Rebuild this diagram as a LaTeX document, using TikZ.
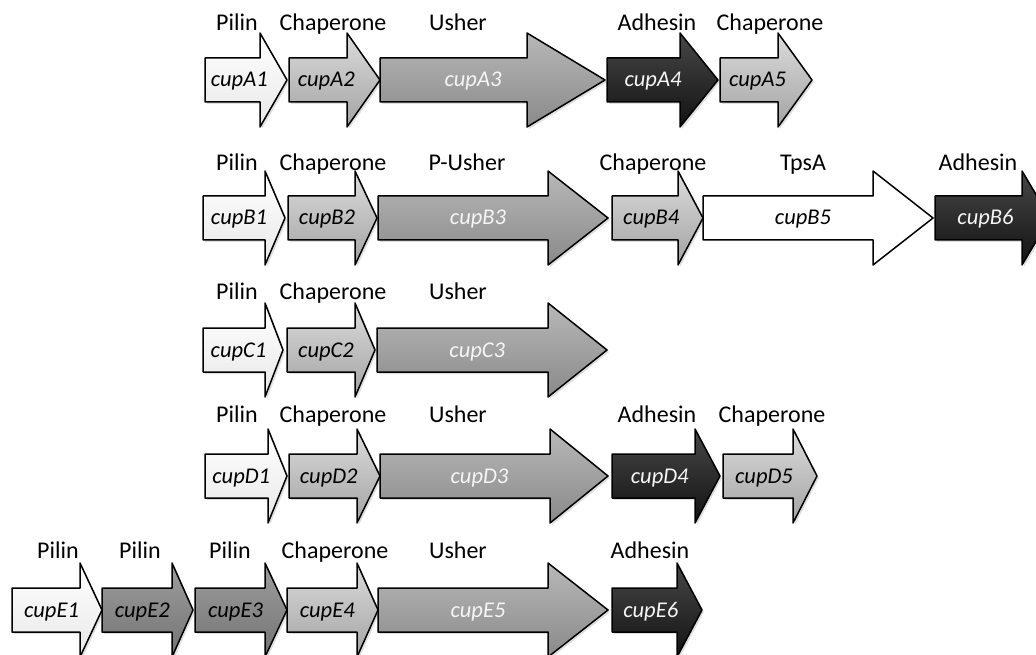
\documentclass[tikz,border=0pt]{standalone}
\usepackage{fontspec}
\setmainfont{Carlito}
\usetikzlibrary{shadows}
\tikzset{
  gbase/.style={draw=black, line width=1.5pt, line join=round,
    drop shadow={opacity=0.25, shadow xshift=2pt, shadow yshift=-2pt}},
  gpilin/.style={gbase, top color=white, bottom color=black!9},
  gpilindark/.style={gbase, top color=black!38, bottom color=black!55},
  gchap/.style={gbase, top color=black!14, bottom color=black!36},
  gusher/.style={gbase, top color=black!28, bottom color=black!46},
  gadh/.style={gbase, top color=black!72, bottom color=black!93},
  gtps/.style={draw=black, line width=1.5pt, line join=round, fill=white},
  gtxt/.style={font=\fontsize{22.5}{26}\selectfont\itshape, anchor=base, inner sep=0pt, text=black},
  gtxtw/.style={gtxt, text=black!4},
  lbl/.style={font=\fontsize{24}{28}\selectfont, anchor=base, inner sep=0pt, text=black}
}
% #1 name, #2 left x, #3 head start x, #4 tip x, #5 centre y, #6 fill style, #7 text style, #8 text
\newcommand\genearrow[8]{%
  \path[#6] (#2,#5-22) -- (#3,#5-22) -- (#3,#5-47) -- (#4,#5) -- (#3,#5+47)
     -- (#3,#5+22) -- (#2,#5+22) -- cycle;
  \node[#7] (#1) at ({(#2+(#3+#4)/2)/2},#5+7) {#8};
}
\begin{document}
\begin{tikzpicture}[x=1pt,y=-1pt]
\useasboundingbox (0,0) rectangle (1036,655);
\clip (0,0) rectangle (1036,655);
\fill[white] (0,0) rectangle (1036,655);

% Row A
\genearrow{A1}{205}{260}{287}{80}{gpilin}{gtxt}{cupA1}
\genearrow{A2}{289}{347}{380}{80}{gchap}{gtxt}{cupA2}
\genearrow{A3}{380}{527}{605}{80}{gusher}{gtxtw}{cupA3}
\genearrow{A4}{607}{680}{718}{80}{gadh}{gtxtw}{cupA4}
\genearrow{A5}{720}{778}{812}{80}{gchap}{gtxt}{cupA5}
\node[lbl] (lA1) at (237,31) {Pilin};
\node[lbl] (lA2) at (333,31) {Chaperone};
\node[lbl] (lA3) at (458,31) {Usher};
\node[lbl] (lA4) at (657,31) {Adhesin};
\node[lbl] (lA5) at (770,31) {Chaperone};

% Row B
\genearrow{B1}{203}{265}{285}{218}{gpilin}{gtxt}{cupB1}
\genearrow{B2}{288}{355}{377}{218}{gchap}{gtxt}{cupB2}
\genearrow{B3}{378}{548}{608}{218}{gusher}{gtxtw}{cupB3}
\genearrow{B4}{612}{678}{703}{218}{gchap}{gtxt}{cupB4}
\genearrow{B5}{703}{873}{933}{218}{gtps}{gtxt}{cupB5}
\genearrow{B6}{935}{1022}{1050}{218}{gadh}{gtxtw}{cupB6}
\node[lbl] (lB1) at (237,171) {Pilin};
\node[lbl] (lB2) at (333,171) {Chaperone};
\node[lbl] (lB3) at (467,171) {P-Usher};
\node[lbl] (lB4) at (653,171) {Chaperone};
\node[lbl] (lB5) at (803,171) {TpsA};
\node[lbl] (lB6) at (978,171) {Adhesin};

% Row C
\genearrow{C1}{203}{265}{283}{350}{gpilin}{gtxt}{cupC1}
\genearrow{C2}{287}{355}{375}{350}{gchap}{gtxt}{cupC2}
\genearrow{C3}{377}{548}{607}{350}{gusher}{gtxtw}{cupC3}
\node[lbl] (lC1) at (237,299) {Pilin};
\node[lbl] (lC2) at (333,299) {Chaperone};
\node[lbl] (lC3) at (458,299) {Usher};

% Row D
\genearrow{D1}{205}{268}{287}{476}{gpilin}{gtxt}{cupD1}
\genearrow{D2}{289}{357}{380}{476}{gchap}{gtxt}{cupD2}
\genearrow{D3}{380}{550}{608}{476}{gusher}{gtxtw}{cupD3}
\genearrow{D4}{612}{695}{720}{476}{gadh}{gtxtw}{cupD4}
\genearrow{D5}{723}{793}{817}{476}{gchap}{gtxt}{cupD5}
\node[lbl] (lD1) at (237,422) {Pilin};
\node[lbl] (lD2) at (333,422) {Chaperone};
\node[lbl] (lD3) at (458,422) {Usher};
\node[lbl] (lD4) at (657,422) {Adhesin};
\node[lbl] (lD5) at (772,422) {Chaperone};

% Row E
\genearrow{E1}{12}{80}{102}{610}{gpilin}{gtxt}{cupE1}
\genearrow{E2}{102}{172}{193}{610}{gpilindark}{gtxt}{cupE2}
\genearrow{E3}{195}{265}{287}{610}{gpilindark}{gtxt}{cupE3}
\genearrow{E4}{287}{357}{378}{610}{gchap}{gtxt}{cupE4}
\genearrow{E5}{378}{548}{608}{610}{gusher}{gtxtw}{cupE5}
\genearrow{E6}{612}{677}{702}{610}{gadh}{gtxtw}{cupE6}
\node[lbl] (lE1) at (58,558) {Pilin};
\node[lbl] (lE2) at (140,558) {Pilin};
\node[lbl] (lE3) at (230,558) {Pilin};
\node[lbl] (lE4) at (335,558) {Chaperone};
\node[lbl] (lE5) at (458,558) {Usher};
\node[lbl] (lE6) at (650,558) {Adhesin};
\end{tikzpicture}
\end{document}
